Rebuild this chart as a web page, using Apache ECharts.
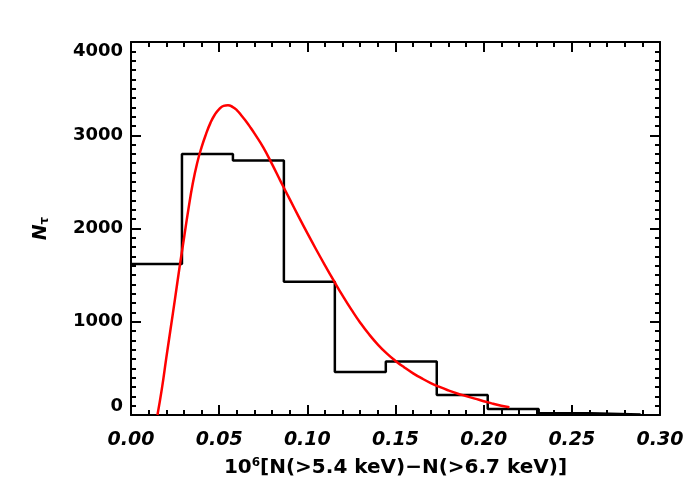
<!DOCTYPE html>
<html>
<head>
<meta charset="utf-8">
<script src="https://cdn.jsdelivr.net/npm/echarts@6/dist/echarts.min.js"></script>
<style>html,body{margin:0;padding:0;background:#fff}#c{width:700px;height:500px}</style>
</head>
<body>
<div id="c"></div>
<script>
// Histogram bin edges and counts
var binEdges = [0, 0.0289, 0.0578, 0.0867, 0.1156, 0.1445, 0.1734, 0.2023, 0.2312, 0.2601, 0.289];
var binCounts = [1620, 2800, 2730, 1430, 460, 575, 215, 65, 20, 5];
// Fitted curve
var curveX = [0.0150, 0.0175, 0.0200, 0.0225, 0.0250, 0.0275, 0.0300, 0.0325, 0.0350, 0.0375, 0.0400, 0.0425, 0.0450, 0.0475, 0.0500, 0.0525, 0.0550, 0.0575, 0.0600, 0.0625, 0.0650, 0.0675, 0.0700, 0.0750, 0.0800, 0.0850, 0.0900, 0.0950, 0.1000, 0.1050, 0.1100, 0.1150, 0.1200, 0.1250, 0.1300, 0.1350, 0.1400, 0.1450, 0.1500, 0.1550, 0.1600, 0.1650, 0.1700, 0.1750, 0.1800, 0.1850, 0.1900, 0.1950, 0.2000, 0.2050, 0.2100, 0.2146];
var curveY = [0, 280, 610, 930, 1250, 1580, 1890, 2200, 2480, 2700, 2870, 3010, 3130, 3220, 3280, 3315, 3322, 3305, 3270, 3215, 3155, 3090, 3020, 2870, 2690, 2500, 2315, 2130, 1950, 1775, 1605, 1440, 1280, 1130, 990, 865, 755, 660, 580, 510, 447, 392, 343, 301, 264, 231, 203, 176, 148, 122, 100, 84];
var xTicks = [0, 0.05, 0.10, 0.15, 0.20, 0.25, 0.30];
var yTicks = [0, 1000, 2000, 3000, 4000];

var histData = [];
for (var i = 0; i < binCounts.length; i++) histData.push([binEdges[i], binCounts[i]]);
histData.push([binEdges[binEdges.length - 1], binCounts[binCounts.length - 1]]);
var curveData = curveX.map(function (x, i) { return [x, curveY[i]]; });

var axisLineStyle = { color: '#000', width: 2 };
function xAx(pos, showLabel) {
  return {
    type: 'value', position: pos, min: xTicks[0], max: xTicks[xTicks.length - 1], interval: 0.05,
    axisLine: { show: true, onZero: false, lineStyle: axisLineStyle },
    axisTick: { show: true, inside: true, length: 10, lineStyle: { color: '#000', width: 2 } },
    minorTick: { show: true, splitNumber: 5, length: 5, lineStyle: { color: '#000', width: 2 } },
    splitLine: { show: false },
    axisLabel: {
      show: showLabel, margin: 16, color: '#000', fontFamily: 'DejaVu Sans', fontWeight: 'bold', fontStyle: 'italic', fontSize: 19,
      formatter: function (v) { return v.toFixed(2); }
    },
    name: showLabel ? '{a|10}{s|6}{a|[N(>5.4 keV)\u2212N(>6.7 keV)]}' : '',
    nameLocation: 'middle', nameGap: 42,
    nameTextStyle: {
      rich: {
        a: { fontFamily: 'DejaVu Sans', fontWeight: 'bold', fontSize: 20, color: '#000' },
        s: { fontFamily: 'DejaVu Sans', fontWeight: 'bold', fontSize: 12, color: '#000', verticalAlign: 'top', padding: [0, 0, 9, 0] }
      }
    }
  };
}
function yAx(pos, showLabel) {
  return {
    type: 'value', position: pos, min: yTicks[0], max: yTicks[yTicks.length - 1], interval: 1000,
    axisLine: { show: true, onZero: false, lineStyle: axisLineStyle },
    axisTick: { show: true, inside: true, length: 10, lineStyle: { color: '#000', width: 2 } },
    minorTick: { show: true, splitNumber: 10, length: 5, lineStyle: { color: '#000', width: 2 } },
    splitLine: { show: false },
    axisLabel: {
      show: showLabel, margin: 8, color: '#000', fontFamily: 'DejaVu Sans', fontWeight: 'bold', fontSize: 18,
      verticalAlignMinLabel: 'bottom', verticalAlignMaxLabel: 'top',
      formatter: function (v) { return String(v); }
    },
    name: showLabel ? '{n|N}{t|\u03c4}' : '',
    nameLocation: 'middle', nameGap: 80, nameRotate: 90,
    nameTextStyle: {
      rich: {
        n: { fontFamily: 'DejaVu Sans', fontWeight: 'bold', fontStyle: 'italic', fontSize: 19, color: '#000' },
        t: { fontFamily: 'DejaVu Sans', fontWeight: 'bold', fontSize: 12, color: '#000', verticalAlign: 'bottom', padding: [8, 0, 0, 0] }
      }
    }
  };
}

var chart = echarts.init(document.getElementById('c'), null, { renderer: 'canvas' });
chart.setOption({
  animation: false,
  backgroundColor: '#fff',
  grid: { left: 131, right: 40, top: 42, bottom: 85, show: false },
  xAxis: [xAx('bottom', true), xAx('top', false)],
  yAxis: [yAx('left', true), yAx('right', false)],
  series: [
    { type: 'line', data: histData, step: 'end', symbol: 'none', lineStyle: { color: '#000', width: 2.5 }, xAxisIndex: 0, yAxisIndex: 0, z: 3 },
    { type: 'line', data: curveData, smooth: 0.5, symbol: 'none', lineStyle: { color: '#ff0000', width: 2.5 }, xAxisIndex: 0, yAxisIndex: 0, z: 4 }
  ]
});
</script>
</body>
</html>
